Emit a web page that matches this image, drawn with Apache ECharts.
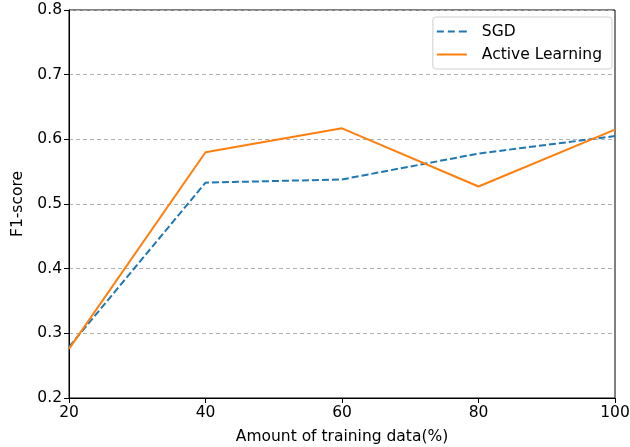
<!DOCTYPE html>
<html><head><meta charset="utf-8">
<script src="https://cdn.jsdelivr.net/npm/echarts@6/dist/echarts.min.js"></script>
<style>html,body{margin:0;padding:0;background:#fff}#c{width:630px;height:447px}</style>
</head><body><div id="c"></div>
<script>
const xValues = [20, 40, 60, 80, 100];
const sgd = [0.279, 0.533, 0.538, 0.578, 0.605];
const active = [0.276, 0.580, 0.617, 0.527, 0.615];
const yTicks = [0.2, 0.3, 0.4, 0.5, 0.6, 0.7, 0.8];

const font = 'DejaVu Sans';
const fs = 15.5;
const chart = echarts.init(document.getElementById('c'));
chart.setOption({
  animation: false,
  textStyle: {fontFamily: font},
  grid: {left: 69, right: 15, top: 10, bottom: 49, containLabel: false, outerBoundsMode: 'none',
         show: true, borderColor: '#000', borderWidth: 1, backgroundColor: 'transparent'},
  legend: {
    right: 18, top: 17, orient: 'vertical',
    itemWidth: 30, itemHeight: 2, itemGap: 6,
    padding: [6, 10, 6, 4],
    backgroundColor: '#fff', borderColor: '#d0d0d0', borderWidth: 1, borderRadius: 3,
    textStyle: {fontFamily: font, fontSize: fs, color: '#000', padding: [0, 0, 0, 10], lineHeight: 17},
    data: [
      {name: 'SGD', icon: 'path://M0,0h7v2h-7z M11,0h7v2h-7z M22,0h8v2h-8z'},
      {name: 'Active Learning', icon: 'path://M0,0h30v2h-30z'}
    ]
  },
  xAxis: {
    type: 'value', min: 20, max: 100, interval: 20,
    name: 'Amount of training data(%)', nameLocation: 'middle', nameGap: 31,
    nameTextStyle: {fontFamily: font, fontSize: fs, color: '#000'},
    axisLine: {show: true, onZero: false, lineStyle: {color: '#000', width: 1}},
    axisTick: {show: true, length: 5, lineStyle: {color: '#000'}},
    axisLabel: {fontFamily: font, fontSize: fs, color: '#000', margin: 7},
    splitLine: {show: false}
  },
  yAxis: {
    type: 'value', min: 0.2, max: 0.8, interval: 0.1,
    name: 'F1-score', nameLocation: 'middle', nameGap: 42, nameRotate: 90,
    nameTextStyle: {fontFamily: font, fontSize: fs, color: '#000'},
    axisLine: {show: true, lineStyle: {color: '#000', width: 1}},
    axisTick: {show: true, length: 5, lineStyle: {color: '#000'}},
    axisLabel: {fontFamily: font, fontSize: fs, color: '#000', margin: 7, formatter: v => v.toFixed(1)},
    splitLine: {show: true, lineStyle: {color: '#b0b0b0', type: [4, 3], width: 1}}
  },
  series: [
    {name: 'SGD', type: 'line', data: xValues.map((x, i) => [x, sgd[i]]), symbol: 'none', showSymbol: false,
     lineStyle: {color: '#1f77b4', width: 2, type: [7, 3]}, itemStyle: {color: '#1f77b4'}},
    {name: 'Active Learning', type: 'line', data: xValues.map((x, i) => [x, active[i]]), symbol: 'none', showSymbol: false,
     lineStyle: {color: '#ff7f0e', width: 2, type: 'solid'}, itemStyle: {color: '#ff7f0e'}}
  ]
});
</script></body></html>
